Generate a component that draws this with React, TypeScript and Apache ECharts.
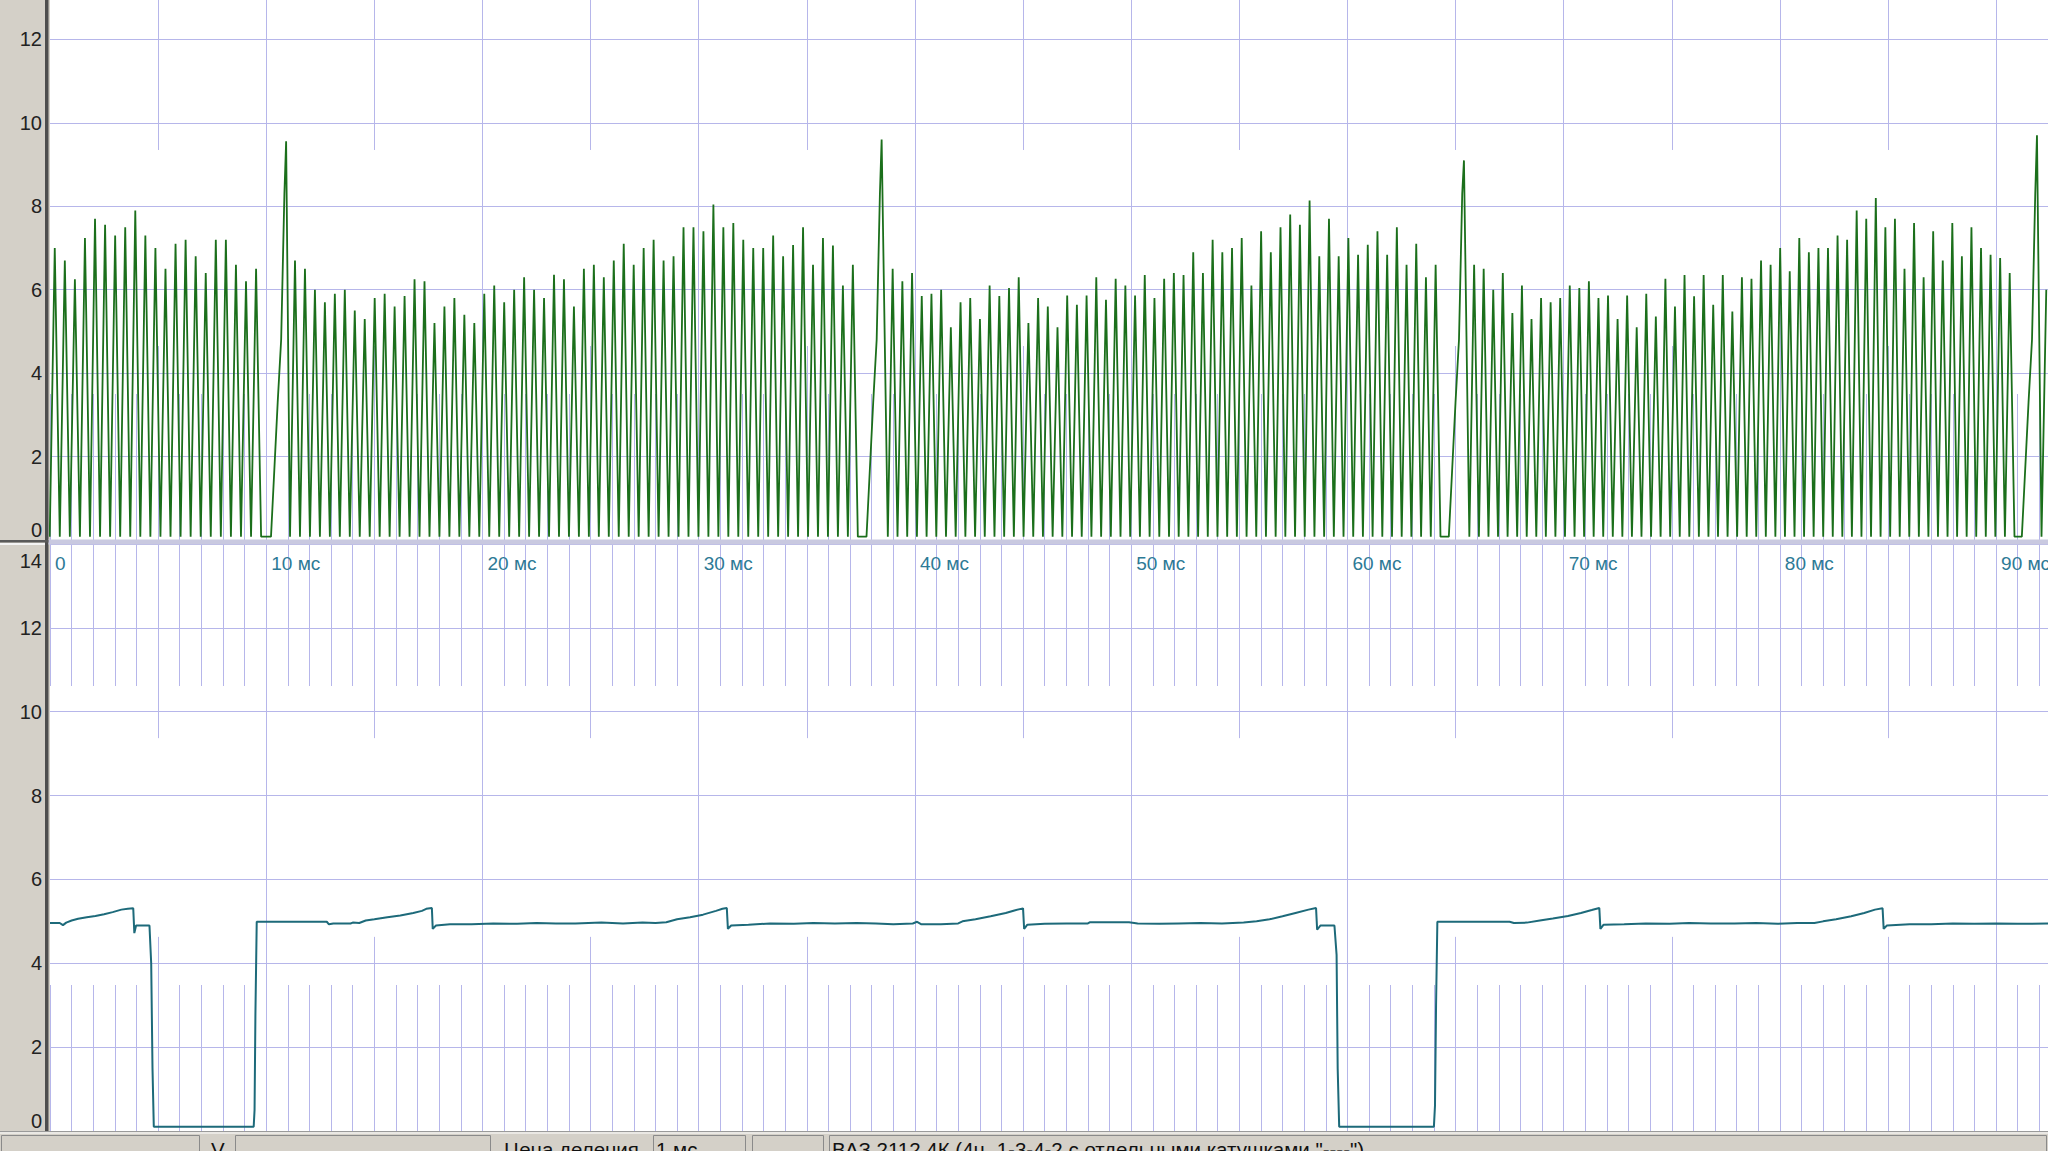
import React, { useEffect, useRef } from 'react';
import * as echarts from 'echarts';

// ---- axes ----
const T_MAX = 92.4; // ms visible
const Y_MAX = 14;
const Y_INTERVAL = 2;
const MAJOR_MS = [10, 20, 30, 40, 50, 60, 70, 80, 90];
const MID_MS = [5, 15, 25, 35, 45, 55, 65, 75, 85];

// ---- green trace (crank sensor): peak value of every tooth, per revolution ----
const rev0Peaks = [7.0, 6.7, 6.25, 7.24, 7.7, 7.56, 7.3, 7.5, 7.9, 7.3, 7.0, 6.5, 7.1, 7.2, 6.8, 6.4, 7.2, 7.2, 6.6, 6.2, 6.5];
const rev1Peaks = [6.7, 6.5, 6.0, 5.7, 5.9, 6.0, 5.5, 5.3, 5.8, 5.9, 5.6, 5.85, 6.25, 6.2, 5.2, 5.6, 5.8, 5.4, 5.2, 5.9, 6.1, 5.7, 6.0, 6.3, 6.0, 5.8,
  6.36, 6.25, 5.6, 6.5, 6.6, 6.3, 6.7, 7.1, 6.6, 7.0, 7.2, 6.7, 6.8, 7.5, 7.5, 7.4, 8.04, 7.5, 7.6, 7.2, 7.0, 7.0, 7.3, 6.8, 7.07, 7.5, 6.6, 7.24, 7.06, 6.1, 6.6];
const rev2Peaks = [6.5, 6.2, 6.4, 5.85, 5.9, 6.0, 5.1, 5.7, 5.8, 5.3, 6.1, 5.85, 6.04, 6.3, 5.2, 5.8,
  5.6, 5.1, 5.86, 5.64, 5.86, 6.3, 5.76, 6.26, 6.1, 5.86, 6.35, 5.8, 6.26, 6.4, 6.35, 6.9, 6.4, 7.2, 6.9, 7.0, 7.24, 6.1, 7.4, 6.9, 7.5, 7.8, 7.56, 8.14, 6.8, 7.7,
  6.8, 7.24, 6.84, 7.08, 7.4, 6.84, 7.5, 6.6, 7.1, 6.3, 6.6];
const rev3Peaks = [6.6, 6.5, 6.0, 6.4, 5.44, 6.1, 5.3, 5.8,
  5.7, 5.8, 6.1, 6.04, 6.2, 5.8, 5.86, 5.3, 5.86, 5.1, 5.9, 5.36, 6.26, 5.6, 6.35, 5.84, 6.35, 5.64, 6.35, 5.48, 6.3, 6.26, 6.7, 6.6, 7.0, 6.44, 7.24, 6.9, 7.0, 7.0,
  7.3, 7.2, 7.9, 7.7, 8.2, 7.5, 7.7, 6.5, 7.6, 6.3, 7.4, 6.7, 7.6, 6.8, 7.5, 7.0, 6.84, 6.76, 6.4];
const rev4Peaks = [6.0];
const revPeaks = [rev0Peaks, rev1Peaks, rev2Peaks, rev3Peaks, rev4Peaks];
const revFirstTooth = [0.22, 11.33, 38.97, 65.86, 92.32]; // ms
const revToothPeriod = [0.4655, 0.4607, 0.4484, 0.4423, 0.44]; // ms
const spikeTimes = [10.92, 38.46, 65.39, 91.89]; // first tooth after the gap
const spikePeaks = [9.56, 9.6, 9.1, 9.7];
const gapRampOffsets = [-0.7, -0.39, -0.23, -0.08];
const gapRampLevels = [0.08, 3.3, 4.8, 8.3];
const TROUGH = 0.08;

// ---- blue trace (phase sensor): [ms, V] ----
const blueSamples: [number, number][] = [
  [0, 4.96], [0.45, 4.96], [0.6, 4.91], [0.75, 4.97], [1.0, 5.02], [1.3, 5.06], [1.7, 5.1], [2.1, 5.13], [2.5, 5.17], [2.9, 5.22], [3.3, 5.28], [3.6, 5.3], [3.85, 5.31],
  [3.9, 4.72], [3.98, 4.9], [4.6, 4.9], [4.68, 4.0], [4.74, 1.5], [4.8, 0.1], [9.42, 0.1], [9.46, 0.5], [9.5, 2.8], [9.56, 4.99],
  [12.8, 4.99], [12.9, 4.93], [13.1, 4.95], [13.9, 4.95], [14.0, 4.97], [14.3, 4.96], [14.6, 5.02], [15.0, 5.05], [15.6, 5.1], [16.2, 5.14], [16.8, 5.2], [17.2, 5.25], [17.4, 5.3], [17.66, 5.32],
  [17.7, 4.82], [17.85, 4.9], [18.5, 4.93], [19.5, 4.93], [20.5, 4.95], [21.6, 4.94], [22.5, 4.96], [23.4, 4.95], [24.3, 4.95], [25.5, 4.97], [26.5, 4.95], [27.4, 4.97], [28.0, 4.96],
  [28.5, 4.98], [29.0, 5.05], [29.6, 5.1], [30.2, 5.16], [30.8, 5.25], [31.1, 5.3], [31.3, 5.32], [31.35, 4.82], [31.5, 4.9], [32.3, 4.92], [33.3, 4.95], [34.4, 4.94], [35.3, 4.96],
  [36.3, 4.95], [37.3, 4.96], [38.2, 4.95], [39.0, 4.93], [39.9, 4.95], [40.1, 4.99], [40.3, 4.93], [41.2, 4.93], [42.0, 4.95], [42.2, 5.0], [42.8, 5.05], [43.5, 5.12], [44.2, 5.2],
  [44.6, 5.26], [45.0, 5.31], [45.05, 4.82], [45.2, 4.92], [46.0, 4.94], [47.0, 4.95], [48.0, 4.95], [48.1, 4.98], [49.9, 4.98], [50.3, 4.95], [51.3, 4.94], [52.2, 4.95], [53.2, 4.96],
  [54.2, 4.95], [55.2, 4.97], [55.8, 5.0], [56.4, 5.05], [57.0, 5.12], [57.6, 5.2], [58.2, 5.28], [58.55, 5.32], [58.6, 4.8], [58.75, 4.9], [59.4, 4.9], [59.5, 4.2], [59.55, 1.5],
  [59.62, 0.1], [64.0, 0.1], [64.05, 0.6], [64.1, 3.0], [64.16, 4.99], [67.5, 4.99], [67.7, 4.96], [68.3, 4.97], [68.9, 5.02], [69.5, 5.07], [70.2, 5.13], [70.8, 5.2], [71.3, 5.27],
  [71.65, 5.32], [71.7, 4.82], [71.85, 4.92], [72.8, 4.93], [73.8, 4.95], [74.9, 4.94], [75.8, 4.96], [76.8, 4.95], [77.9, 4.95], [78.9, 4.96], [79.9, 4.94], [80.8, 4.96], [81.6, 4.96],
  [82.0, 5.0], [82.6, 5.05], [83.3, 5.12], [83.9, 5.2], [84.4, 5.28], [84.75, 5.31], [84.8, 4.82], [84.95, 4.9], [86.0, 4.93], [87.0, 4.93], [88.0, 4.95], [89.0, 4.94], [90.0, 4.95],
  [91.0, 4.94], [92.4, 4.95],
];

// ---- status bar texts ----
const statusV = 'V';
const statusDivLabel = 'Цена деления';
const statusDivValue = '1 мс';
const statusTitle = 'ВАЗ 2112 4К (4ц. 1-3-4-2 с отдельными катушками "----")';

function buildGreen(): [number, number][] {
  const pts: [number, number][] = [];
  revPeaks.forEach((peaks, r) => {
    const t0 = revFirstTooth[r];
    const p = revToothPeriod[r];
    peaks.forEach((v, k) => {
      const t = t0 + k * p;
      pts.push([t - p / 2, TROUGH]);
      pts.push([t, v]);
    });
    if (r < spikeTimes.length) {
      const tl = t0 + (peaks.length - 1) * p;
      pts.push([tl + p / 2, TROUGH]);
      gapRampOffsets.forEach((o, i) => pts.push([spikeTimes[r] + o, gapRampLevels[i]]));
      pts.push([spikeTimes[r], spikePeaks[r]]);
    }
  });
  return pts;
}

const GRID_LINE = '#b6b6ea';
const FONT = '"Liberation Sans", Arial, sans-serif';
const STATUS_FONT = `20.5px ${FONT}`;

function markLines(topVal: number, midLen: number) {
  const data: any[] = MAJOR_MS.map((x) => ({ xAxis: x }));
  MID_MS.forEach((x) => {
    data.push([{ coord: [x, topVal] }, { coord: [x, topVal - midLen] }]);
    data.push([{ coord: [x, 0] }, { coord: [x, midLen] }]);
  });
  return {
    silent: true,
    z: 1,
    symbol: ['none', 'none'],
    label: { show: false },
    emphasis: { disabled: true },
    lineStyle: { color: GRID_LINE, width: 1, type: 'solid' },
    animation: false,
    data,
  };
}

function tickAxis(gridIndex: number, position: 'top' | 'bottom', withLabels: boolean) {
  return {
    type: 'value',
    gridIndex,
    position,
    min: 0,
    max: T_MAX,
    interval: 1,
    axisLine: { show: false },
    axisTick: { show: true, inside: true, length: 146, lineStyle: { color: GRID_LINE, width: 1 } },
    splitLine: { show: false },
    axisLabel: withLabels
      ? {
          show: true,
          inside: true,
          margin: 10,
          align: 'left',
          padding: [0, 0, 0, 5],
          color: '#2d7a96',
          fontSize: 19,
          fontFamily: FONT,
          formatter: (v: number) => (Math.abs(v % 10) < 1e-9 ? (v === 0 ? '0' : `${v} мс`) : ''),
        }
      : { show: false },
  };
}

function valueAxis(gridIndex: number, showMax: boolean) {
  return {
    type: 'value',
    gridIndex,
    min: 0,
    max: Y_MAX,
    interval: Y_INTERVAL,
    axisLine: { show: false },
    axisTick: { show: false },
    splitLine: { show: true, lineStyle: { color: GRID_LINE, width: 1 } },
    axisLabel: {
      show: true,
      showMaxLabel: showMax,
      margin: 8,
      color: '#222',
      fontSize: 20,
      fontFamily: FONT,
      verticalAlignMinLabel: 'bottom',
      verticalAlignMaxLabel: 'top',
      formatter: (v: number) => (v === Y_MAX ? `{mx|${v}}` : `${v}`),
      rich: { mx: { fontSize: 20, fontFamily: FONT, color: '#222', lineHeight: 34 } },
    },
  };
}

export default function App() {
  const ref = useRef<HTMLDivElement>(null);
  useEffect(() => {
    document.body.style.margin = '0';
    const chart = echarts.init(ref.current!, null, { renderer: 'svg' });
    const green = buildGreen();
    const statusBoxes = [
      [1, 199], [235, 490], [653, 745], [752, 823], [829, 2046],
    ];
    const option: any = {
      animation: false,
      backgroundColor: '#d4d0c8',
      grid: [
        { left: 50, right: 0, top: -44, height: 584, show: true, backgroundColor: '#ffffff', borderWidth: 0, containLabel: false, outerBoundsMode: 'none' },
        { left: 50, right: 0, top: 544, height: 587, show: true, backgroundColor: '#ffffff', borderWidth: 0, containLabel: false, outerBoundsMode: 'none' },
      ],
      xAxis: [
        tickAxis(0, 'top', false),
        tickAxis(0, 'bottom', false),
        tickAxis(1, 'top', true),
        tickAxis(1, 'bottom', false),
      ],
      yAxis: [valueAxis(0, false), valueAxis(1, true)],
      series: [
        {
          type: 'line',
          name: 'ДПКВ',
          xAxisIndex: 0,
          yAxisIndex: 0,
          data: green,
          showSymbol: false,
          symbol: 'none',
          z: 3,
          clip: true,
          silent: true,
          lineStyle: { color: '#1b6f1b', width: 1.8 },
          markLine: markLines(Y_MAX, 4.65),
        },
        {
          type: 'line',
          name: 'ДФ',
          xAxisIndex: 2,
          yAxisIndex: 1,
          data: blueSamples,
          showSymbol: false,
          symbol: 'none',
          z: 3,
          clip: true,
          silent: true,
          lineStyle: { color: '#1d6a7a', width: 2 },
          markLine: markLines(Y_MAX, 4.63),
        },
      ],
      graphic: [
        // left axis line
        { type: 'rect', z: 50, silent: true, shape: { x: 45, y: 0, width: 3.5, height: 1131 }, style: { fill: '#4e4e4e' } },
        // splitter between panels
        { type: 'rect', z: 50, silent: true, shape: { x: 48.5, y: 539.5, width: 2000, height: 5 }, style: { fill: '#c9c9e0' } },
        { type: 'rect', z: 50, silent: true, shape: { x: 0, y: 540, width: 48.5, height: 2.5 }, style: { fill: '#5a5a5a' } },
        { type: 'rect', z: 50, silent: true, shape: { x: 0, y: 543, width: 45, height: 2 }, style: { fill: '#f4f4f4' } },
        // status bar
        { type: 'rect', z: 50, silent: true, shape: { x: 0, y: 1131, width: 2048, height: 20 }, style: { fill: '#d4d0c8' } },
        { type: 'rect', z: 51, silent: true, shape: { x: 0, y: 1131, width: 2048, height: 1 }, style: { fill: '#9a9a9a' } },
        { type: 'rect', z: 51, silent: true, shape: { x: 0, y: 1132.5, width: 2048, height: 1 }, style: { fill: '#ffffff' } },
        ...statusBoxes.map(([a, b]) => ({
          type: 'rect', z: 52, silent: true,
          shape: { x: a + 0.5, y: 1135.5, width: b - a, height: 20 },
          style: { fill: '#d4d0c8', stroke: '#8a8a8a', lineWidth: 1 },
        })),
        { type: 'text', z: 53, silent: true, style: { text: statusV, x: 211, y: 1139, fill: '#111', font: STATUS_FONT, verticalAlign: 'top' } },
        { type: 'text', z: 53, silent: true, style: { text: statusDivLabel, x: 504, y: 1139, fill: '#111', font: STATUS_FONT, verticalAlign: 'top' } },
        { type: 'text', z: 53, silent: true, style: { text: statusDivValue, x: 656, y: 1139, fill: '#111', font: STATUS_FONT, verticalAlign: 'top' } },
        { type: 'text', z: 53, silent: true, style: { text: statusTitle, x: 832, y: 1139, fill: '#111', font: STATUS_FONT, verticalAlign: 'top' } },
      ],
    };
    chart.setOption(option);
    return () => chart.dispose();
  }, []);
  return <div ref={ref} style={{ position: 'absolute', left: 0, top: 0, width: 2048, height: 1151 }} />;
}
